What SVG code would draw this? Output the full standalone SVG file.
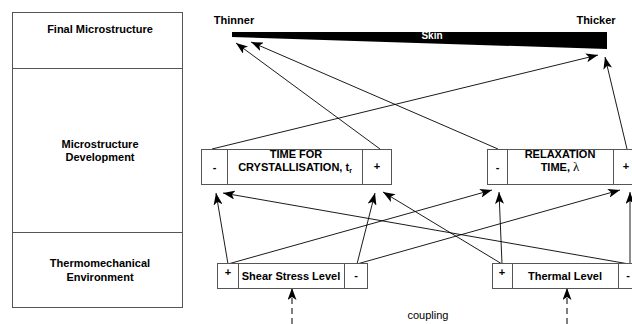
<svg xmlns="http://www.w3.org/2000/svg" width="632" height="324" viewBox="0 0 632 324">
<style>
.t{font-family:"Liberation Sans",Arial,sans-serif;font-size:11px;font-weight:bold;fill:#000;text-anchor:middle}
.n{font-family:"Liberation Sans",Arial,sans-serif;font-size:11px;fill:#000;text-anchor:middle}
.box{fill:#fff;stroke:#555;stroke-width:1}
.ln{stroke:#555;stroke-width:1}
.c{fill:none;stroke:#000;stroke-width:0.9;marker-end:url(#ah)}
.d{fill:none;stroke:#000;stroke-width:1;stroke-dasharray:6,4;marker-end:url(#ah)}
</style>
<defs>
<marker id="ah" markerUnits="userSpaceOnUse" markerWidth="13" markerHeight="9" refX="12" refY="4.5" orient="auto">
<path d="M0,0 L12,4.5 L0,9 L3,4.5 z" fill="#000"/>
</marker>
</defs>
<rect width="632" height="324" fill="#fff"/>
<g id="levels">
<rect class="box" x="12.5" y="12.5" width="170" height="295"/>
<line class="ln" x1="12.5" y1="68.5" x2="182.5" y2="68.5"/>
<line class="ln" x1="12.5" y1="232.5" x2="182.5" y2="232.5"/>
<text class="t" x="100" y="33">Final Microstructure</text>
<text class="t" x="100" y="148">Microstructure</text>
<text class="t" x="100" y="161">Development</text>
<text class="t" x="100" y="267">Thermomechanical</text>
<text class="t" x="100" y="281">Environment</text>
</g>
<g id="skin">
<polygon points="232,32 607,32 607,49 232,37" fill="#000"/>
<text class="t" x="432" y="39" style="fill:#fff;font-size:10px">Skin</text>
<text class="t" x="234" y="24">Thinner</text>
<text class="t" x="596" y="24">Thicker</text>
</g>
<g id="connectors">
<line class="c" x1="380" y1="149" x2="236" y2="43"/>
<line class="c" x1="212" y1="149" x2="598" y2="55"/>
<line class="c" x1="498" y1="149" x2="251" y2="42"/>
<line class="c" x1="627" y1="149" x2="605" y2="57"/>
<line class="c" x1="228" y1="264" x2="216" y2="193"/>
<line class="c" x1="357" y1="264" x2="375" y2="193"/>
<line class="c" x1="228" y1="264" x2="492" y2="190"/>
<line class="c" x1="357" y1="264" x2="620" y2="190"/>
<line class="c" x1="629" y1="264" x2="223" y2="193"/>
<line class="c" x1="502" y1="264" x2="383" y2="192"/>
<line class="c" x1="502" y1="264" x2="499" y2="192"/>
<line class="c" x1="630" y1="264" x2="630" y2="192"/>
<line class="d" x1="292" y1="324" x2="292" y2="288"/>
<line class="d" x1="567" y1="324" x2="567" y2="288"/>
</g>
<g id="time">
<rect class="box" x="201.5" y="149.5" width="190" height="35"/>
<line class="ln" x1="227.5" y1="149.5" x2="227.5" y2="184.5"/>
<line class="ln" x1="362.5" y1="149.5" x2="362.5" y2="184.5"/>
<text class="t" x="214.5" y="171">-</text>
<text class="t" x="377" y="170">+</text>
<text class="t" x="296" y="158">TIME FOR</text>
<text class="t" x="295" y="171">CRYSTALLISATION, t<tspan style="font-size:7px" dy="2">r</tspan></text>
</g>
<g id="relaxation">
<rect class="box" x="487.5" y="149.5" width="150" height="35"/>
<line class="ln" x1="507.5" y1="149.5" x2="507.5" y2="184.5"/>
<line class="ln" x1="613.5" y1="149.5" x2="613.5" y2="184.5"/>
<text class="t" x="497.5" y="171">-</text>
<text class="t" x="626" y="170">+</text>
<text class="t" x="560" y="158">RELAXATION</text>
<text class="t" x="560" y="171">TIME, <tspan style="font-family:'Liberation Serif',serif;font-weight:normal;font-size:13px">λ</tspan></text>
</g>
<g id="shear">
<rect class="box" x="217.5" y="263.5" width="150" height="25"/>
<line class="ln" x1="238.5" y1="263.5" x2="238.5" y2="288.5"/>
<line class="ln" x1="344.5" y1="263.5" x2="344.5" y2="288.5"/>
<text class="t" x="228" y="276">+</text>
<text class="t" x="291" y="280">Shear Stress Level</text>
<text class="t" x="356" y="279">-</text>
</g>
<g id="thermal">
<rect class="box" x="492.5" y="263.5" width="150" height="25"/>
<line class="ln" x1="512.5" y1="263.5" x2="512.5" y2="288.5"/>
<line class="ln" x1="618.5" y1="263.5" x2="618.5" y2="288.5"/>
<text class="t" x="502" y="276">+</text>
<text class="t" x="565" y="280">Thermal Level</text>
<text class="t" x="628" y="279">-</text>
</g>
<text class="n" x="428" y="319">coupling</text>
</svg>
